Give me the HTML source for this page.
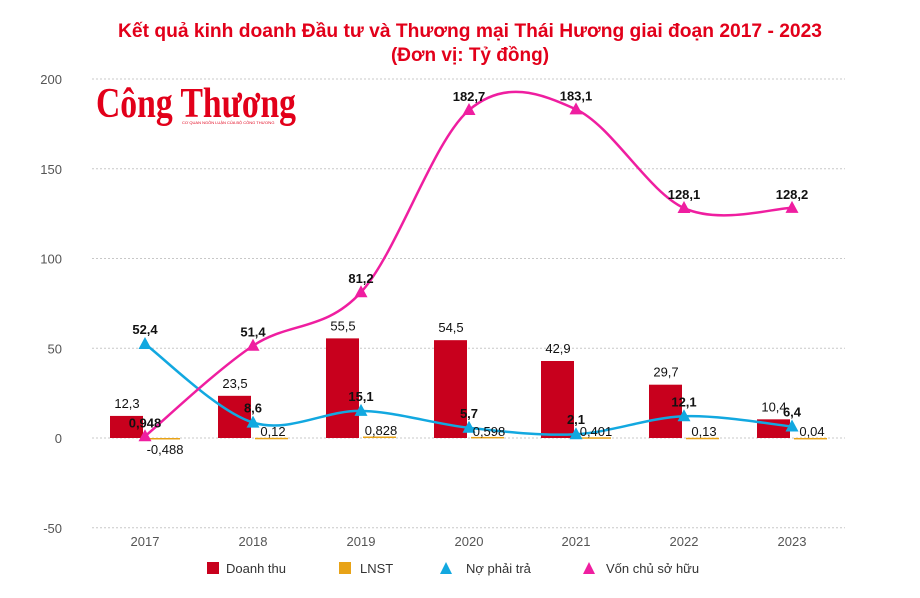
<!DOCTYPE html>
<html><head><meta charset="utf-8"><style>
body{margin:0;background:#fff;}
svg{display:block;font-family:"Liberation Sans",Arial,sans-serif;}
</style></head><body>
<svg id="s" width="920" height="598" viewBox="0 0 920 598" xmlns="http://www.w3.org/2000/svg">
<text x="470" y="37" text-anchor="middle" font-size="19" font-weight="bold" fill="#e2001a" textLength="704" lengthAdjust="spacingAndGlyphs">Kết quả kinh doanh Đầu tư và Thương mại Thái Hương giai đoạn 2017 - 2023</text>
<text x="470" y="61" text-anchor="middle" font-size="19" font-weight="bold" fill="#e2001a">(Đơn vị: Tỷ đồng)</text>
<text x="96" y="117" font-family="Liberation Serif,serif" font-size="42" font-weight="bold" fill="#e2001a" textLength="200" lengthAdjust="spacingAndGlyphs">Công Thương</text>
<text x="182" y="124" font-size="4" fill="#e2001a">CƠ QUAN NGÔN LUẬN CỦA BỘ CÔNG THƯƠNG</text>
<g id="grid" stroke="#c8c8c8" stroke-dasharray="2,2" stroke-width="1"></g>
<g id="axis" font-size="13" fill="#555" text-anchor="end"></g>
<g id="bars"></g>
<g id="lines"></g>
<g id="labels" font-size="13" fill="#111"></g>
<g font-size="13" fill="#333">
<rect x="207" y="562" width="12" height="12" fill="#c8001d"/><text x="226" y="573">Doanh thu</text>
<rect x="339" y="562" width="12" height="12" fill="#e8a317"/><text x="360" y="573">LNST</text>
<polygon points="446,562 452,574 440,574" fill="#12a8e0"/><text x="466" y="573">Nợ phải trả</text>
<polygon points="589,562 595,574 583,574" fill="#ef1ea0"/><text x="606" y="573">Vốn chủ sở hữu</text>
</g>
</svg>
<script>
var NS="http://www.w3.org/2000/svg";
function el(p,t,a,txt){var e=document.createElementNS(NS,t);for(var k in a)e.setAttribute(k,a[k]);if(txt!=null)e.textContent=txt;document.getElementById(p).appendChild(e);return e;}
function Y(v){return 438-1.795*v;}
var X=[145,253,361,469,576,684,792],yrs=[2017,2018,2019,2020,2021,2022,2023];
[200,150,100,50,0,-50].forEach(function(v){el("grid","line",{x1:92,x2:845,y1:Y(v),y2:Y(v)});el("axis","text",{x:62,y:Y(v)+5},v);});
yrs.forEach(function(y,i){el("axis","text",{x:X[i],y:546,"text-anchor":"middle"},y);});
var dt=[12.3,23.5,55.5,54.5,42.9,29.7,10.4],ln=[-0.488,0.12,0.828,0.598,0.401,0.13,0.04];
var no=[52.4,8.6,15.1,5.7,2.1,12.1,6.4],vo=[0.948,51.4,81.2,182.7,183.1,128.1,128.2];
dt.forEach(function(v,i){el("bars","rect",{x:X[i]-35,y:Y(v),width:33,height:438-Y(v),fill:"#c8001d"});});
ln.forEach(function(v,i){var a=Y(Math.max(v,0)),b=Y(Math.min(v,0));el("bars","rect",{x:X[i]+2,y:a,width:33,height:Math.max(b-a,1.5),fill:"#e8a317"});});
function path(vals){var P=vals.map(function(v,i){return[X[i],Y(v)];});var d="M"+P[0];for(var i=0;i<P.length-1;i++){var p0=P[i-1]||P[i],p1=P[i],p2=P[i+1],p3=P[i+2]||P[i+1];var c1=[p1[0]+(p2[0]-p0[0])/6,p1[1]+(p2[1]-p0[1])/6],c2=[p2[0]-(p3[0]-p1[0])/6,p2[1]-(p3[1]-p1[1])/6];d+="C"+c1+" "+c2+" "+p2;}return d;}
function series(vals,col){el("lines","path",{d:path(vals),fill:"none",stroke:col,"stroke-width":2.5});vals.forEach(function(v,i){var x=X[i],y=Y(v);el("lines","polygon",{points:(x)+","+(y-7)+" "+(x+6.5)+","+(y+5)+" "+(x-6.5)+","+(y+5),fill:col});});}
series(no,"#12a8e0");series(vo,"#ef1ea0");
function fmt(v){return String(v).replace(".",",");}
dt.forEach(function(v,i){el("labels","text",{x:X[i]-18,y:Y(v)-8,"text-anchor":"middle"},fmt(v));});
ln.forEach(function(v,i){el("labels","text",{x:X[i]+20,y:i==0?454:(i==2?435:436),"text-anchor":"middle"},fmt(v));});
vo.forEach(function(v,i){el("labels","text",{x:X[i],y:Y(v)-9,"text-anchor":"middle","font-weight":"bold"},fmt(v));});
no.forEach(function(v,i){el("labels","text",{x:X[i],y:Y(v)-10,"text-anchor":"middle","font-weight":"bold"},fmt(v));});
</script>
</body></html>
